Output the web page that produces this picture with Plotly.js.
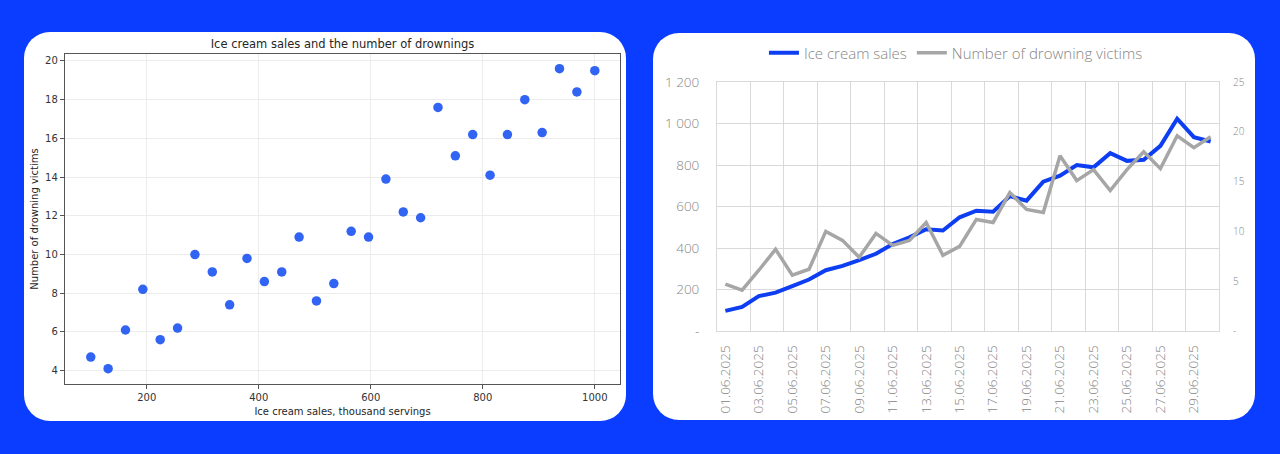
<!DOCTYPE html>
<html>
<head>
<meta charset="utf-8">
<script src="https://cdn.plot.ly/plotly-3.0.1.min.js"></script>
<style>
  html, body { margin: 0; padding: 0; }
  body { width: 1280px; height: 454px; background: #0a3dff; position: relative; overflow: hidden; }
  .panel { position: absolute; background: #ffffff; border-radius: 26px; overflow: hidden; }
  #left { left: 24px; top: 32px; width: 602px; height: 389px; }
  #right { left: 653px; top: 33px; width: 602px; height: 387px; }
</style>
</head>
<body>
<div id="left" class="panel"></div>
<div id="right" class="panel"></div>
<script>
// ---- Scatter data (left chart) ----
const sales = [100, 131, 162, 193, 224, 255, 286, 317, 348, 379, 410, 441, 472, 503, 534,
               565, 596, 627, 658, 689, 720, 751, 782, 813, 844, 875, 906, 937, 968, 1000];
const drownings = [4.7, 4.1, 6.1, 8.2, 5.6, 6.2, 10.0, 9.1, 7.4, 9.8, 8.6, 9.1, 10.9, 7.6, 8.5,
                   11.2, 10.9, 13.9, 12.2, 11.9, 17.6, 15.1, 16.2, 14.1, 16.2, 18.0, 16.3, 19.6, 18.4, 19.5];

// ---- Daily data (right chart) ----
const days = ['01.06.2025','02.06.2025','03.06.2025','04.06.2025','05.06.2025','06.06.2025',
              '07.06.2025','08.06.2025','09.06.2025','10.06.2025','11.06.2025','12.06.2025',
              '13.06.2025','14.06.2025','15.06.2025','16.06.2025','17.06.2025','18.06.2025',
              '19.06.2025','20.06.2025','21.06.2025','22.06.2025','23.06.2025','24.06.2025',
              '25.06.2025','26.06.2025','27.06.2025','28.06.2025','29.06.2025','30.06.2025'];
const dailySales = [97, 116, 168, 185, 216, 248, 293, 314, 342, 372, 419, 451, 490, 484, 548,
                    580, 575, 650, 628, 720, 749, 800, 789, 857, 820, 825, 892, 1023, 934, 913];
const dailyDrownings = drownings;
const leftTickVals = [0, 200, 400, 600, 800, 1000, 1200];
const leftTickText = ['-', '200', '400', '600', '800', '1 000', '1 200'];
const rightTickVals = [0, 5, 10, 15, 20, 25];
const rightTickText = ['-', '5', '10', '15', '20', '25'];

// ---------------- Left chart ----------------
const mplFont = 'DejaVu Sans, sans-serif';
Plotly.newPlot('left', [{
  type: 'scatter', mode: 'markers',
  x: sales, y: drownings,
  marker: { color: '#3164f2', size: 9.5, line: { width: 0 } },
  hoverinfo: 'skip'
}], {
  width: 602, height: 389,
  margin: { l: 41, r: 6, t: 22, b: 37, autoexpand: false },
  paper_bgcolor: 'rgba(0,0,0,0)', plot_bgcolor: '#ffffff',
  showlegend: false,
  font: { family: mplFont, color: '#333333', size: 10 },
  title: { text: 'Ice cream sales and the number of drownings', font: { family: mplFont, size: 11.5, color: '#262626' },
           x: 0.5, xref: 'paper', xanchor: 'center', y: 1 - 12 / 389, yref: 'container', yanchor: 'middle' },
  xaxis: {
    range: [54, 1045], tickvals: [200, 400, 600, 800, 1000],
    showgrid: true, gridcolor: '#ececec', gridwidth: 1, zeroline: false,
    showline: true, linecolor: '#555555', linewidth: 1.2, mirror: true,
    ticks: 'outside', ticklen: 4, tickcolor: '#555555', tickfont: { size: 10, color: '#333333' },
    title: { text: 'Ice cream sales, thousand servings', font: { size: 10, color: '#262626' }, standoff: 5 }
  },
  yaxis: {
    range: [3.31, 20.36], tickvals: [4, 6, 8, 10, 12, 14, 16, 18, 20],
    showgrid: true, gridcolor: '#ececec', gridwidth: 1, zeroline: false,
    showline: true, linecolor: '#555555', linewidth: 1.2, mirror: true,
    ticks: 'outside', ticklen: 4, tickcolor: '#555555', tickfont: { size: 10, color: '#333333' },
    title: { text: 'Number of drowning victims', font: { size: 10, color: '#262626' }, standoff: 4 }
  }
}, { displayModeBar: false, staticPlot: true });

// ---------------- Right chart ----------------
const xlFont = 'Open Sans, Lato, sans-serif';
const idx = days.map((d, i) => i);
Plotly.newPlot('right', [
  {
    type: 'scatter', mode: 'lines', name: 'Ice cream sales',
    x: idx, y: dailySales, yaxis: 'y',
    line: { color: '#0d3ef2', width: 4 }, hoverinfo: 'skip'
  },
  {
    type: 'scatter', mode: 'lines', name: 'Number of drowning victims',
    x: idx, y: dailyDrownings, yaxis: 'y2',
    line: { color: '#a6a6a6', width: 3.5 }, hoverinfo: 'skip'
  }
], {
  width: 602, height: 387,
  margin: { l: 64, r: 36, t: 49, b: 89, autoexpand: false },
  paper_bgcolor: 'rgba(0,0,0,0)', plot_bgcolor: '#ffffff',
  font: { family: xlFont, color: '#858585' },
  showlegend: true,
  legend: { orientation: 'h', x: 0.476, xanchor: 'center', y: 1 + 29 / 249, yanchor: 'middle',
            font: { size: 15, color: '#858585', weight: 300 }, bgcolor: 'rgba(0,0,0,0)' },
  xaxis: {
    range: [-0.5, 29.5],
    tickvals: idx.filter(i => i % 2 === 0), ticktext: days.filter((d, i) => i % 2 === 0),
    tickangle: -90, tickfont: { size: 13.5, color: '#858585', weight: 300 },
    ticks: 'outside', ticklen: 8, tickcolor: 'rgba(0,0,0,0)',
    showgrid: false, zeroline: false,
    minor: { tick0: -0.5, dtick: 2, showgrid: true, gridcolor: '#d9d9d9', gridwidth: 1, ticks: '' },
    showline: true, linecolor: '#d9d9d9', linewidth: 1, mirror: true
  },
  yaxis: {
    range: [0, 1200], tickvals: leftTickVals, ticktext: leftTickText,
    tickfont: { size: 13.5, color: '#858585', weight: 300 },
    ticks: 'outside', ticklen: 14, tickcolor: 'rgba(0,0,0,0)',
    showgrid: true, gridcolor: '#d9d9d9', gridwidth: 1, zeroline: false,
    showline: true, linecolor: '#d9d9d9', linewidth: 1, mirror: true
  },
  yaxis2: {
    overlaying: 'y', side: 'right',
    range: [0, 25], tickvals: rightTickVals, ticktext: rightTickText,
    tickfont: { size: 10, color: '#858585', weight: 300 },
    ticks: 'outside', ticklen: 11, tickcolor: 'rgba(0,0,0,0)',
    showgrid: false, zeroline: false, showline: false
  }
}, { displayModeBar: false, staticPlot: true });
</script>
</body>
</html>
